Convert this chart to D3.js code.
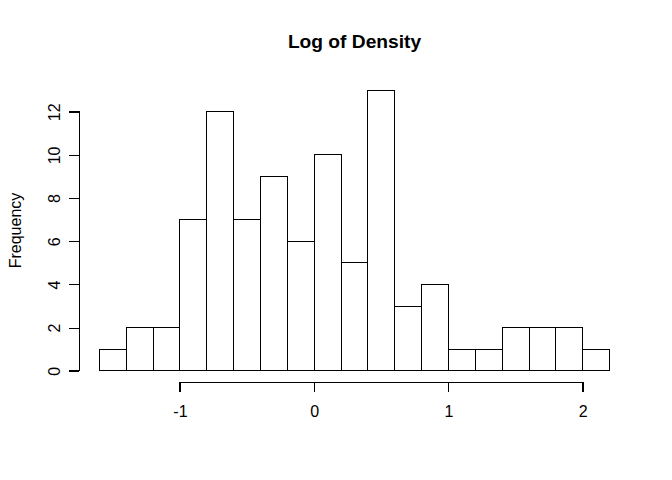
<!DOCTYPE html>
<html><head><meta charset="utf-8">
<script src="https://cdn.jsdelivr.net/npm/d3@7"></script>
<style>body{margin:0;background:#fff}svg{display:block}text{font-family:"Liberation Sans",Arial,Helvetica,sans-serif;fill:#000}</style>
</head><body>
<script>
const binStarts = [-1.6,-1.4,-1.2,-1.0,-0.8,-0.6,-0.4,-0.2,0.0,0.2,0.4,0.6,0.8,1.0,1.2,1.4,1.6,1.8,2.0];
const binWidth = 0.2;
const counts = [1,2,2,7,12,7,9,6,10,5,13,3,4,1,1,2,2,2,1];
const xTicks = [-1,0,1,2];
const yTicks = [0,2,4,6,8,10,12];
const title = "Log of Density";
const yLabel = "Frequency";

const W=672,H=480;
const plot={l:79,r:630,t:79,b:382};
const fmt=d=>String(d).replace("\u2212","-");
const svg=d3.select("body").append("svg").attr("width",W).attr("height",H);
const x=d3.scaleLinear().domain([-1.752,2.352]).range([plot.l,plot.r]);
const y=d3.scaleLinear().domain([-0.52,13.52]).range([plot.b,plot.t]);

svg.append("g").selectAll("rect").data(binStarts).join("rect")
  .attr("x",d=>x(d)).attr("width",(d)=>x(d+binWidth)-x(d))
  .attr("y",(d,i)=>y(counts[i])).attr("height",(d,i)=>y(0)-y(counts[i]))
  .attr("fill","#fff").attr("stroke","#000").attr("stroke-width",1)
  .attr("shape-rendering","crispEdges");

const xa=svg.append("g").attr("transform",`translate(0,${plot.b})`)
  .call(d3.axisBottom(x).tickValues(xTicks).tickFormat(fmt).tickSize(10));
xa.select(".domain").attr("d",`M${x(-1)},10V0H${x(2)}V10`);
xa.selectAll(".tick text").attr("y",35).attr("dy",0);
const ya=svg.append("g").attr("transform",`translate(${plot.l},0)`)
  .call(d3.axisLeft(y).tickValues(yTicks).tickFormat(fmt).tickSize(10));
ya.select(".domain").attr("d",`M-10,${y(0)}H0V${y(12)}H-10`);
ya.selectAll(".tick text").attr("transform","rotate(-90)").attr("x",0).attr("y",-19.5).attr("dy",0).attr("text-anchor","middle");
svg.selectAll(".tick line,.domain").attr("stroke","#000").attr("stroke-width",1).attr("shape-rendering","crispEdges");
svg.selectAll(".tick text").attr("font-size",16).attr("font-family","Liberation Sans, Arial, sans-serif");

svg.append("text").attr("x",(plot.l+plot.r)/2).attr("y",48).attr("text-anchor","middle")
  .attr("font-size",19.2).attr("font-weight","bold").text(title);
svg.append("text").attr("transform",`translate(21,${(plot.t+plot.b)/2}) rotate(-90)`).attr("text-anchor","middle")
  .attr("font-size",16).text(yLabel);
</script>
</body></html>
